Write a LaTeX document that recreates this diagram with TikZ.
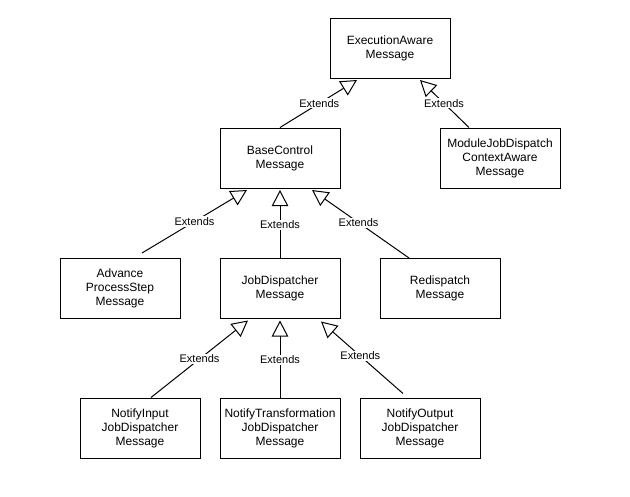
\documentclass[tikz,border=0pt]{standalone}
\usepackage{fontspec}
\setmainfont{Liberation Sans}
\usetikzlibrary{arrows.meta,calc}
\begin{document}
\begin{tikzpicture}[x=1pt,y=-1pt,
  box/.style={draw, line width=1pt, minimum width=120pt, minimum height=60pt, inner sep=0pt, align=center, font=\fontsize{12pt}{14pt}\selectfont},
  ext/.style={draw, line width=1pt, -{Triangle[open, length=16pt, width=16.5pt, line width=1pt]}},
  lbl/.style={fill=white, inner sep=1pt, font=\fontsize{11pt}{13pt}\selectfont}]
\useasboundingbox (0,0) rectangle (630,496);
\node[box] (ex)  at (390,48)    {ExecutionAware\\Message};
\node[box] (bc)  at (280,158)   {BaseControl\\Message};
\node[box] (mod) at (500,158)   {ModuleJobDispatch\\ContextAware\\Message};
\node[box] (adv) at (120,288.5) {Advance\\ProcessStep\\Message};
\node[box] (jd)  at (280,288.5) {JobDispatcher\\Message};
\node[box] (red) at (440,288.5) {Redispatch\\Message};
\node[box] (ni)  at (140,428)   {NotifyInput\\JobDispatcher\\Message};
\node[box] (nt)  at (280,428)   {NotifyTransformation\\JobDispatcher\\Message};
\node[box] (no)  at (420,428)   {NotifyOutput\\JobDispatcher\\Message};
% edges
\draw[ext] (bc.north) -- ([xshift=-33pt,yshift=-1.5pt]ex.south) node[lbl,pos=0.51] {Extends};
\draw[ext] ([xshift=-31pt]mod.north) -- ([xshift=30pt,yshift=-1.5pt]ex.south) node[lbl,pos=0.51] {Extends};
\draw[ext] ([xshift=22pt,yshift=5pt]adv.north) -- ([xshift=-33pt,yshift=-1.5pt]bc.south) node[lbl,pos=0.5] {Extends};
\draw[ext] (jd.north) -- ([yshift=-1.5pt]bc.south) node[lbl,pos=0.49] {Extends};
\draw[ext] ([xshift=-31pt]red.north) -- ([xshift=32pt,yshift=-1.5pt]bc.south) node[lbl,pos=0.52] {Extends};
\draw[ext] ([xshift=11pt]ni.north) -- ([xshift=-32pt,yshift=-1.5pt]jd.south) node[lbl,pos=0.5] {Extends};
\draw[ext] (nt.north) -- ([yshift=-1.5pt]jd.south) node[lbl,pos=0.49] {Extends};
\draw[ext] ([xshift=-17pt,yshift=4pt]no.north) -- ([xshift=41pt,yshift=-2.5pt]jd.south) node[lbl,pos=0.52] {Extends};
\end{tikzpicture}
\end{document}
